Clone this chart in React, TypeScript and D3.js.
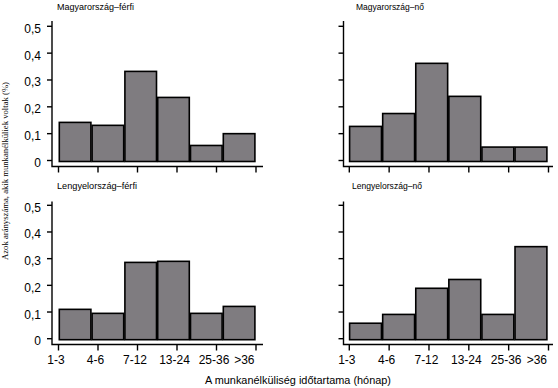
import React from "react";
import * as d3 from "d3";

const categories = ["1-3", "4-6", "7-12", "13-24", "25-36", ">36"];
const huMale = [0.142, 0.131, 0.332, 0.235, 0.056, 0.1];
const huFemale = [0.127, 0.175, 0.362, 0.239, 0.05, 0.05];
const plMale = [0.11, 0.095, 0.286, 0.29, 0.095, 0.121];
const plFemale = [0.058, 0.091, 0.189, 0.222, 0.091, 0.345];
const yTicks = [0, 0.1, 0.2, 0.3, 0.4, 0.5];
const panelTitles = ["Magyarország–férfi", "Magyarország–nő", "Lengyelország–férfi", "Lengyelország–nő"];
const xTitle = "A munkanélküliség időtartama (hónap)";
const yTitle = "Azok arányszáma, akik munkanélküliek voltak (%)";

const W = 558;
const H = 388;
const BAR_FILL = "#7f7c80";

const cols = [
  { axisX: 52, bar0: 58.7, bar1: 255.5, tick0: 58.5, tick1: 256, axisEnd: 263 },
  { axisX: 343.5, bar0: 349, bar1: 547.5, tick0: 349.3, tick1: 548.5, axisEnd: 553 },
];
const rows = [
  { y0: 160.5, y5: 26.3, axisY: 166.5, axisTop: 21 },
  { y0: 338.7, y5: 205.3, axisY: 344.5, axisTop: 201.5 },
];
const titlePos = [
  { x: 57, y: 9.5 },
  { x: 356, y: 9.5 },
  { x: 57, y: 189 },
  { x: 352, y: 189 },
];
const titleLen = [77, 68, 80, 70];

const series = [huMale, huFemale, plMale, plFemale];

function Panel({ idx }: { idx: number }) {
  const c = cols[idx % 2];
  const r = rows[Math.floor(idx / 2)];
  const values = series[idx];
  const xBand = d3.scaleBand<string>().domain(categories).range([c.bar0, c.bar1]).padding(0);
  const xTick = d3.scalePoint<string>().domain(categories).range([c.tick0, c.tick1]);
  const y = d3.scaleLinear().domain([0, 0.5]).range([r.y0, r.y5]);
  const showY = idx % 2 === 0;
  const showX = idx >= 2;
  const fmt = (v: number) => (v === 0 ? "0" : d3.format(".1f")(v).replace(".", ","));
  const bw = xBand.bandwidth();
  return (
    <g>
      {values.map((v, i) => (
        <rect
          key={i}
          x={(xBand(categories[i]) as number) + 0.6}
          y={y(v)}
          width={bw - 1.2}
          height={r.y0 - y(v) + 1}
          fill={BAR_FILL}
          stroke="#000"
          strokeWidth={1.6}
        />
      ))}
      <path
        d={`M${c.axisX},${r.axisTop}V${r.axisY}H${c.axisEnd}`}
        fill="none"
        stroke="#000"
        strokeWidth={1.4}
      />
      {yTicks.map((t) => (
        <g key={t}>
          <line x1={c.axisX - 5} x2={c.axisX} y1={y(t)} y2={y(t)} stroke="#000" strokeWidth={1.4} />
          {showY && (
            <text
              x={c.axisX - 11}
              y={y(t) + 6.5}
              textAnchor="end"
              fontFamily="'Liberation Sans', Arial, sans-serif"
              fontSize={12}
              fill="#000"
            >
              {fmt(t)}
            </text>
          )}
        </g>
      ))}
      {categories.map((cat, i) => {
        const tx = xTick(cat) as number;
        const last = i === categories.length - 1;
        return (
          <g key={cat}>
            <line x1={tx} x2={tx} y1={r.axisY} y2={r.axisY + 6} stroke="#000" strokeWidth={1.4} />
            {showX && (
              <text
                x={last ? tx - 1.5 : tx - 2.5}
                y={363.5}
                textAnchor={last ? "end" : "middle"}
                fontFamily="'Liberation Sans', Arial, sans-serif"
                fontSize={12}
                fill="#000"
              >
                {cat}
              </text>
            )}
          </g>
        );
      })}
      <text
        x={titlePos[idx].x}
        y={titlePos[idx].y}
        fontFamily="'Liberation Sans', Arial, sans-serif"
        fontSize={9}
        textLength={titleLen[idx]}
        lengthAdjust="spacingAndGlyphs"
        fill="#000"
      >
        {panelTitles[idx]}
      </text>
    </g>
  );
}

export default function App() {
  return (
    <svg
      width={W}
      height={H}
      viewBox={`0 0 ${W} ${H}`}
      style={{ position: "absolute", left: 0, top: 0, background: "#fff" }}
    >
      <rect width={W} height={H} fill="#fff" />
      {[0, 1, 2, 3].map((i) => (
        <Panel key={i} idx={i} />
      ))}
      <text
        x={298}
        y={383.5}
        textAnchor="middle"
        fontFamily="'Liberation Sans', Arial, sans-serif"
        fontSize={10}
        textLength={186}
        lengthAdjust="spacingAndGlyphs"
        fill="#000"
      >
        {xTitle}
      </text>
      <text
        transform="translate(8,171) rotate(-90)"
        textAnchor="middle"
        fontFamily="'Liberation Serif', 'Times New Roman', serif"
        fontSize={8}
        textLength={178}
        lengthAdjust="spacingAndGlyphs"
        fill="#000"
      >
        {yTitle}
      </text>
    </svg>
  );
}
